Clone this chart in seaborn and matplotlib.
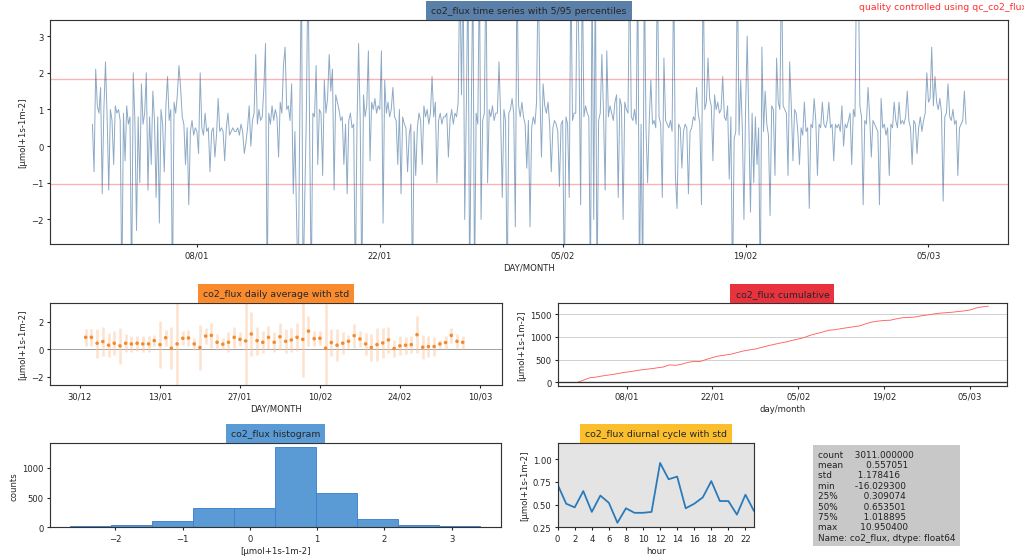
import numpy as np
import pandas as pd
import seaborn as sns
import matplotlib.pyplot as plt
import matplotlib.dates as mdates

# --- data ---
# half-hourly flux, thinned to 8 values per day (31/12 -> 07/03), clipped spikes go off-axis
flux_by_day = [
    [0.6, -0.7, 2.1, 1.1, 0.9, 1.6, -1.3, 1.0],
    [2.3, 0.8, -1.2, 1.0, 0.7, -0.5, 1.1, 0.9],
    [1.0, 0.7, -4.0, 0.9, -0.4, 1.1, 0.6, 0.8],
    [-4.0, 2.0, 0.7, -2.3, 0.8, -1.0, 1.7, 0.6],
    [0.9, 2.0, -1.2, 0.8, -0.5, 1.5, 0.7, -1.4],
    [0.8, -2.1, 1.0, 0.6, -0.7, 1.1, 1.9, 0.7],
    [1.0, -4.0, 1.2, 0.9, 1.4, 2.2, 1.6, 0.8],
    [0.6, -0.5, 0.5, -1.6, 0.4, 0.7, 0.3, 0.5],
    [0.4, -0.2, 2.0, 0.5, 0.3, 0.9, 0.4, 0.5],
    [-0.7, 0.4, 0.5, -0.3, 0.3, 1.3, 0.4, 0.5],
    [0.4, -0.4, 0.5, 0.9, 0.3, 0.4, 0.5, 0.4],
    [0.4, 0.5, 0.3, 0.6, 0.4, -0.2, 0.1, 0.5],
    [1.1, 0.0, 0.7, 0.9, 2.5, 0.6, 1.0, 0.7],
    [0.8, 1.6, 2.8, -4.0, 0.9, 0.6, 1.1, 0.7],
    [1.0, 0.8, -0.3, 1.2, 0.9, 2.2, 2.7, 1.0],
    [1.1, 0.7, 1.7, -1.3, 0.4, -1.9, -4.0, 0.8],
    [5.0, -4.0, -1.5, 0.8, 5.0, 0.5, -4.0, 0.9],
    [0.8, 2.2, -0.5, 1.0, 0.9, -0.8, 1.8, 0.9],
    [1.3, 2.5, 1.5, 2.1, -1.2, 1.4, 1.2, 1.0],
    [0.7, 0.8, -0.5, 0.6, -1.3, 0.7, 0.9, 0.5],
    [0.6, -4.0, 0.5, 2.8, 0.7, -4.0, 1.4, 0.8],
    [1.1, 2.6, -0.4, 1.2, 1.0, 1.3, 0.9, 1.1],
    [1.0, 2.6, -2.1, 1.8, 0.9, 1.2, 0.8, 1.0],
    [1.6, 0.8, 0.7, -0.5, 1.0, -1.3, 0.8, 0.6],
    [0.5, -0.7, 0.3, 0.6, -4.0, 0.4, -0.8, 0.5],
    [0.9, 0.7, -0.5, 1.1, 0.8, 1.0, 0.6, 0.9],
    [1.9, 0.8, 1.2, -1.0, 0.7, 0.9, 0.6, 0.8],
    [0.8, 0.9, -0.3, 0.7, 1.0, 0.6, 0.9, 0.8],
    [1.2, 5.0, 1.4, 5.0, -2.0, 1.1, 5.0, -4.0],
    [0.8, 5.0, -4.0, 0.9, 0.6, 5.0, -2.0, 0.7],
    [0.9, 5.0, -1.0, 1.0, 0.8, 1.1, 0.7, 0.9],
    [0.9, 2.3, 0.8, -1.4, 1.0, 0.7, -4.0, 0.9],
    [1.0, 1.3, 0.9, -2.2, 5.0, 1.1, 0.8, 1.2],
    [0.8, 0.6, -0.6, 0.7, -2.2, 0.5, 0.8, 0.6],
    [1.2, 5.0, 1.5, -0.3, 1.7, 1.1, 0.9, 1.2],
    [0.6, -0.7, 0.5, 0.7, 0.6, 0.4, -1.1, 0.6],
    [0.7, -4.0, 0.8, 0.6, -1.4, 5.0, 0.7, 0.9],
    [0.9, 5.0, 2.4, -1.6, 5.0, 0.8, 1.1, 0.9],
    [0.8, -4.0, 5.0, -2.0, 5.0, -4.0, 0.7, 0.9],
    [2.5, 0.9, -1.2, 2.6, 0.8, 1.1, 0.9, 0.7],
    [1.2, 1.4, -1.4, 1.3, 1.1, -2.0, 1.2, 1.0],
    [0.9, 5.0, 0.8, 0.7, 1.0, 0.6, 5.0, -4.0],
    [0.6, -4.0, 5.0, 0.5, -1.0, 0.7, 1.8, 0.6],
    [0.7, 0.5, 5.0, 0.8, 0.6, -1.4, 2.4, 0.7],
    [0.6, 0.5, 0.7, 0.4, 5.0, -0.8, -1.7, 0.6],
    [0.5, -0.6, 0.4, 0.6, 0.5, -1.3, 0.4, 0.5],
    [0.8, 0.7, 1.6, 0.9, 0.6, -1.6, 5.0, 1.0],
    [1.2, 2.4, 1.3, 1.1, -0.4, 1.4, 1.0, 1.2],
    [0.9, 1.0, 1.9, 0.8, 0.7, 1.1, -0.9, 0.8],
    [-4.0, 0.2, 0.4, 5.0, 0.3, 1.8, 0.5, -2.0],
    [1.0, 3.0, 0.6, -1.8, 0.9, -1.0, 0.8, -0.5],
    [0.5, -4.0, 2.7, 0.4, 1.5, 0.6, 0.3, -1.9],
    [1.1, 1.0, -0.8, 2.4, 1.2, 1.0, 5.0, 1.1],
    [1.0, 0.9, -0.8, 2.3, 1.1, -0.4, 1.0, 0.9],
    [0.4, -0.5, 0.5, 0.3, 1.2, 0.4, 0.5, -1.7],
    [0.6, 0.5, 1.3, 0.7, -0.8, 0.6, 0.5, 1.2],
    [0.6, 0.5, 0.7, 1.2, 0.5, 0.6, -0.4, 0.6],
    [0.5, 0.6, 0.4, 1.1, 0.0, 0.6, 0.5, 0.7],
    [0.9, -0.5, 1.0, 0.8, 5.0, 5.0, 1.1, 0.8],
    [-1.6, 0.7, 0.6, 1.6, 0.8, -0.3, 0.7, 0.6],
    [0.5, 0.4, -1.6, 1.3, 0.5, 0.6, 0.3, 0.5],
    [-0.8, 0.6, 0.5, 1.2, 0.7, 0.5, 1.2, 0.6],
    [0.7, 0.6, 0.8, 1.5, 0.7, 0.5, -0.5, 0.7],
    [0.6, -0.2, 0.5, 0.8, 0.4, 0.7, 0.9, 2.0],
    [1.2, 1.3, 2.7, 1.1, 1.9, 1.2, 1.0, 1.3],
    [0.9, -1.5, 0.8, 0.9, 1.7, 0.8, 0.7, 1.0],
    [0.6, 0.7, -0.8, 0.5, 0.6, 0.7, 1.5, 0.6],
]
pct_lo, pct_hi = -1.04, 1.82

daily_mean = [0.86, 0.86, 0.43, 0.55, 0.29, 0.43, 0.24, 0.43, 0.38, 0.43,
              0.38, 0.38, 0.62, 0.33, 0.83, 0.07, 0.38, 0.79, 0.81, 0.38,
              0.12, 0.95, 1.00, 0.50, 0.36, 0.50, 0.86, 0.71, 0.60, 1.10,
              0.62, 0.50, 0.86, 0.50, 0.90, 0.57, 0.67, 0.86, 0.71, 1.31,
              0.76, 0.79, 0.07, 0.48, 0.29, 0.43, 0.57, 0.98, 0.74, 0.38,
              0.12, 0.33, 0.45, 0.67, 0.05, 0.24, 0.29, 0.33, 1.05, 0.14,
              0.19, 0.19, 0.38, 0.48, 1.00, 0.57, 0.50]
daily_std = [0.62, 0.62, 1.05, 1.07, 0.88, 0.88, 1.29, 0.64, 0.60, 0.55,
             0.60, 0.60, 0.40, 1.70, 0.57, 1.52, 3.20, 0.52, 0.55, 0.45,
             1.64, 0.55, 0.93, 0.57, 0.43, 0.74, 0.76, 0.50, 3.20, 1.60,
             1.02, 0.80, 0.83, 0.71, 0.98, 0.88, 0.90, 1.02, 2.70, 1.10,
             0.55, 0.52, 3.20, 0.95, 1.14, 0.79, 0.45, 0.88, 0.55, 0.79,
             1.00, 1.19, 1.12, 0.93, 0.62, 0.69, 0.62, 0.60, 1.33, 0.88,
             0.74, 0.69, 0.26, 0.48, 0.55, 0.52, 0.48]

cumulative = [0, 50, 100, 115, 140, 160, 180, 205, 225, 245,
              268, 285, 300, 320, 338, 385, 375, 400, 440, 462,
              460, 505, 545, 580, 600, 620, 655, 690, 715, 735,
              770, 805, 835, 865, 890, 925, 955, 990, 1040, 1075,
              1110, 1150, 1160, 1185, 1205, 1225, 1245, 1290, 1330, 1350,
              1365, 1370, 1400, 1425, 1430, 1440, 1465, 1485, 1505, 1525,
              1535, 1545, 1560, 1575, 1595, 1640, 1665, 1680]

hist_edges = [-2.67, -2.06, -1.45, -0.84, -0.23, 0.38, 0.99, 1.60, 2.21, 2.82, 3.43]
hist_counts = [17, 46, 103, 331, 320, 1354, 583, 143, 46, 17]

hours = list(range(24))
diurnal = [0.72, 0.51, 0.47, 0.65, 0.42, 0.60, 0.52, 0.30, 0.46, 0.41, 0.41, 0.42,
           0.96, 0.78, 0.81, 0.46, 0.51, 0.58, 0.76, 0.54, 0.54, 0.39, 0.61, 0.43]

main_ticks = ['2018-01-08', '2018-01-22', '2018-02-05', '2018-02-19', '2018-03-05']
daily_ticks = ['2017-12-30', '2018-01-13', '2018-01-27', '2018-02-10', '2018-02-24', '2018-03-10']

stats_text = ("count    3011.000000\n"
              "mean        0.557051\n"
              "std         1.178416\n"
              "min       -16.029300\n"
              "25%         0.309074\n"
              "50%         0.653501\n"
              "75%         1.018895\n"
              "max        10.950400\n"
              "Name: co2_flux, dtype: float64")

unit = '[μmol+1s-1m-2]'

# --- build frames ---
start = pd.Timestamp('2017-12-31')
flux = np.concatenate([np.array(d) for d in flux_by_day])
ts = pd.DataFrame({'time': pd.date_range(start, periods=len(flux), freq='3h'), 'flux': flux})
days = pd.date_range(start, periods=len(daily_mean), freq='D')
cum_days = pd.date_range(start, periods=len(cumulative), freq='D')

sns.set_theme(style='ticks')
plt.rcParams.update({'xtick.major.size': 3.5, 'ytick.major.size': 3.5,
                     'axes.edgecolor': '#333333', 'axes.linewidth': 1.3})

fig = plt.figure(figsize=(16, 8.734), dpi=64)


def box_title(ax, text, color):
    ax.annotate(text, xy=(0.5, 1), xycoords='axes fraction', xytext=(0, 5.5),
                textcoords='offset points', ha='center', va='bottom', fontsize=10.5,
                bbox=dict(boxstyle='square,pad=0.55', fc=color, ec='none'))


fmt = mdates.DateFormatter('%d/%m')
xlim_main = (pd.Timestamp('2017-12-27 18:00'), pd.Timestamp('2018-03-11 02:00'))

# time series
ax1 = fig.add_axes([0.0488, 0.5617, 0.9355, 0.4007])
sns.lineplot(data=ts, x='time', y='flux', ax=ax1, color='#2f6497', lw=1.1, alpha=0.55, estimator=None)
ax1.axhline(pct_hi, color='red', alpha=0.3, lw=1.5)
ax1.axhline(pct_lo, color='red', alpha=0.3, lw=1.5)
ax1.set_ylim(-2.67, 3.44)
ax1.set_xlim(xlim_main)
ax1.set_xticks(pd.to_datetime(main_ticks))
ax1.xaxis.set_major_formatter(fmt)
ax1.set_xlabel('DAY/MONTH', fontsize=9.5)
ax1.set_ylabel(unit, fontsize=9.5)
box_title(ax1, 'co2_flux time series with 5/95 percentiles', '#5a7fa8')
fig.text(0.8386, 0.995, 'quality controlled using qc_co2_flux', color='#ff3030', va='top', fontsize=10.5)

# daily average
ax2 = fig.add_axes([0.0488, 0.3095, 0.4414, 0.1467])
ax2.axhline(0, color='#999999', lw=1)
ax2.errorbar(days, daily_mean, yerr=daily_std, fmt='none', ecolor='#fdc9a0', elinewidth=3, alpha=0.5)
sns.scatterplot(x=days, y=daily_mean, ax=ax2, color='#f58a2c', s=16, edgecolor='none', zorder=3)
ax2.set_ylim(-2.6, 3.35)
ax2.set_xlim(pd.Timestamp('2017-12-24 18:00'), pd.Timestamp('2018-03-13 21:00'))
ax2.set_xticks(pd.to_datetime(daily_ticks))
ax2.xaxis.set_major_formatter(fmt)
ax2.set_yticks([-2, 0, 2])
ax2.set_xlabel('DAY/MONTH', fontsize=9.5)
ax2.set_ylabel(unit, fontsize=9.5)
box_title(ax2, 'co2_flux daily average with std', '#f98b2e')

# cumulative
ax3 = fig.add_axes([0.5446, 0.3082, 0.439, 0.148])
ax3.yaxis.grid(True, color='#cccccc', lw=1)
sns.lineplot(x=cum_days, y=cumulative, ax=ax3, color='#ff6060', lw=1)
ax3.axhline(0, color='#333333', lw=1.5)
ax3.set_ylim(-75, 1750)
ax3.set_yticks([0, 500, 1000, 1500])
ax3.set_xlim(xlim_main)
ax3.set_xticks(pd.to_datetime(main_ticks))
ax3.xaxis.set_major_formatter(fmt)
ax3.set_xlabel('day/month', fontsize=9.5)
ax3.set_ylabel(unit, fontsize=9.5)
box_title(ax3, 'co2_flux cumulative', '#e8333f')

# histogram
ax4 = fig.add_axes([0.0488, 0.0549, 0.4404, 0.1508])
centers = [(a + b) / 2 for a, b in zip(hist_edges[:-1], hist_edges[1:])]
sns.histplot(x=centers, weights=hist_counts, bins=hist_edges, ax=ax4,
             color='#5b9bd5', edgecolor='#3f7fd0', alpha=1, lw=1)
ax4.set_xticks([-2, -1, 0, 1, 2, 3])
ax4.set_xlabel(unit, fontsize=9.5)
ax4.set_ylabel('counts', fontsize=9.5)
box_title(ax4, 'co2_flux histogram', '#5b9bd5')

# diurnal cycle
ax5 = fig.add_axes([0.5446, 0.0549, 0.1917, 0.1508])
ax5.set_facecolor('#e4e4e4')
sns.lineplot(x=hours, y=diurnal, ax=ax5, color='#2a7ab9', lw=2)
ax5.set_xlim(0, 23)
ax5.set_ylim(0.25, 1.18)
ax5.set_xticks(range(0, 24, 2))
ax5.set_yticks([0.25, 0.5, 0.75, 1.0])
ax5.yaxis.set_major_formatter(plt.FormatStrFormatter('%.2f'))
ax5.set_xlabel('hour', fontsize=9.5)
ax5.set_ylabel(unit, fontsize=9.5)
box_title(ax5, 'co2_flux diurnal cycle with std', '#fbbf2e')

# describe() box
fig.text(0.7985, 0.194, stats_text, va='top', ha='left', fontsize=10, color='#222222',
         bbox=dict(boxstyle='square,pad=0.5', fc='#c8c8c8', ec='none'))

for ax in [ax1, ax2, ax3, ax4, ax5]:
    ax.tick_params(labelsize=9.5)

fig.savefig('out.png', dpi=64)
